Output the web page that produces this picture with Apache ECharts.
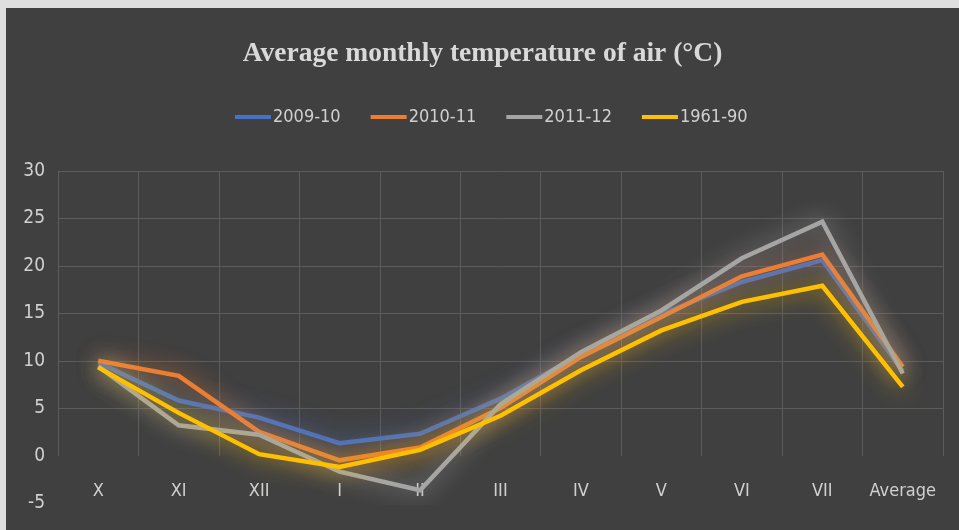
<!DOCTYPE html>
<html>
<head>
<meta charset="utf-8">
<script src="https://cdn.jsdelivr.net/npm/echarts@6/dist/echarts.min.js"></script>
<style>
  html, body { margin: 0; padding: 0; background: #dedede; }
  #chart { position: absolute; left: 6px; top: 8px; width: 953px; height: 522px; }
</style>
</head>
<body>
<div id="chart"></div>
<script>
const categories = ['X', 'XI', 'XII', 'I', 'II', 'III', 'IV', 'V', 'VI', 'VII', 'Average'];
const seriesNames = ['2009-10', '2010-11', '2011-12', '1961-90'];
const s2009 = [9.8, 5.8, 4.0, 1.3, 2.3, 6.0, 10.7, 14.9, 18.3, 20.6, 8.9];
const s2010 = [10.0, 8.4, 2.5, -0.5, 0.85, 5.0, 10.4, 14.6, 18.9, 21.2, 9.35];
const s2011 = [9.4, 3.2, 2.2, -1.7, -3.65, 5.4, 10.9, 15.3, 20.8, 24.65, 8.65];
const s1961 = [9.3, 4.5, 0.15, -1.2, 0.6, 4.2, 9.0, 13.2, 16.2, 17.9, 7.25];
const yTicks = { min: -5, max: 30, interval: 5 };
const colors = ['#4472C4', '#ED7D31', '#A5A5A5', '#FFC000'];
const values = [s2009, s2010, s2011, s1961];

const sansFont = "'Liberation Sans Narrow', 'Arial Narrow', 'DejaVu Sans Condensed', sans-serif";
const chart = echarts.init(document.getElementById('chart'));
const gridPos = { left: 52, right: 16 };
chart.setOption({
  backgroundColor: '#404040',
  animation: false,
  title: {
    text: 'Average monthly temperature of air (°C)',
    left: 'center',
    top: 27,
    textStyle: { fontFamily: "'Liberation Serif', 'Times New Roman', serif", fontWeight: 'bold', fontSize: 27.5, color: '#d9d9d9' }
  },
  legend: {
    top: 95,
    left: 224,
    icon: 'rect',
    itemWidth: 36,
    itemHeight: 4,
    itemGap: 30,
    textStyle: { fontFamily: sansFont, fontSize: 18, color: '#d0d0d0', padding: [0, 0, 0, -3] },
    data: seriesNames
  },
  grid: [
    { left: gridPos.left, right: gridPos.right, top: 163, bottom: 27 },
    { left: gridPos.left, right: gridPos.right, top: 163, bottom: 74 }
  ],
  xAxis: [
    { gridIndex: 0, type: 'category', data: categories, boundaryGap: true,
      axisLine: { show: false }, axisTick: { show: false }, axisLabel: { show: false }, splitLine: { show: false } },
    { gridIndex: 1, type: 'category', data: categories, boundaryGap: true,
      axisLine: { show: false }, axisTick: { show: false, interval: 0 },
      axisLabel: { show: true, interval: 0, margin: 26, fontFamily: sansFont, fontSize: 18, color: '#d0d0d0' },
      splitLine: { show: true, interval: 0, showMinLine: true, showMaxLine: true, lineStyle: { color: '#5c5c5c', width: 1 } } }
  ],
  yAxis: [
    { gridIndex: 0, type: 'value', min: yTicks.min, max: yTicks.max, interval: yTicks.interval,
      axisLine: { show: false }, axisTick: { show: false },
      axisLabel: { margin: 13, fontFamily: sansFont, fontSize: 19, color: '#d0d0d0' },
      splitLine: { show: false } },
    { gridIndex: 1, type: 'value', min: 0, max: yTicks.max, interval: yTicks.interval,
      axisLine: { show: false }, axisTick: { show: false }, axisLabel: { show: false },
      splitLine: { show: true, showMinLine: false, lineStyle: { color: '#5c5c5c', width: 1 } } }
  ],
  series: seriesNames.map((name, i) => ({
    name: name,
    type: 'line',
    xAxisIndex: 0,
    yAxisIndex: 0,
    data: values[i],
    symbol: 'none',
    color: colors[i],
    lineStyle: { width: 4.5, color: colors[i], shadowColor: colors[i], shadowBlur: 22, join: 'miter' },
    z: 2 + i
  }))
});
</script>
</body>
</html>
